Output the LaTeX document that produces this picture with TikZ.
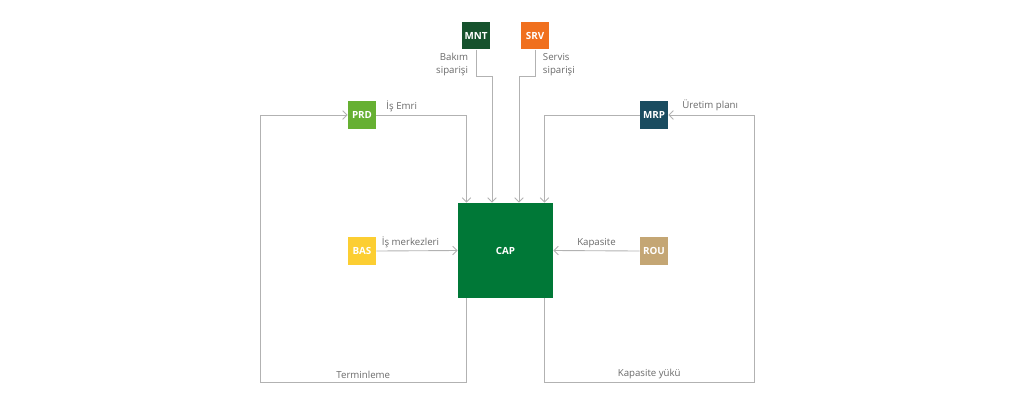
\documentclass[tikz,border=0pt]{standalone}
\usepackage{fontspec}
\setmainfont{Open Sans}
\definecolor{capgreen}{RGB}{0,120,55}
\definecolor{mntgreen}{RGB}{22,82,45}
\definecolor{srvorange}{RGB}{240,112,30}
\definecolor{prdgreen}{RGB}{102,176,50}
\definecolor{mrpteal}{RGB}{26,76,96}
\definecolor{basyellow}{RGB}{252,206,50}
\definecolor{routan}{RGB}{196,166,116}
\definecolor{linegrey}{RGB}{178,178,178}
\definecolor{textgrey}{RGB}{105,105,105}
\usetikzlibrary{arrows.meta, positioning, calc}
\tikzset{
  modbox/.style={rectangle, fill=#1, text=white, minimum width=0.56cm,
                 minimum height=0.55cm, inner sep=0pt,
                 font=\fontsize{5.6}{7}\selectfont\bfseries},
  flow/.style={-{Straight Barb[length=2.5pt,width=5pt]}, line width=0.5pt, draw=linegrey},
  plain/.style={line width=0.5pt, draw=linegrey},
  lbl/.style={font=\fontsize{5.5}{7.4}\selectfont, text=textgrey, inner sep=1.5pt},
}

\begin{document}
\begin{tikzpicture}[x=0.02cm, y=-0.02cm]
    \useasboundingbox (0,0) rectangle (1024,410);
    % modules
    \node[modbox=capgreen, minimum width=1.9cm, minimum height=1.9cm] (cap) at (505.5,250.5) {CAP};
    \node[modbox=mntgreen] (mnt) at (476,35.5) {MNT};
    \node[modbox=srvorange] (srv) at (535,35.5) {SRV};
    \node[modbox=prdgreen] (prd) at (362,115) {PRD};
    \node[modbox=mrpteal] (mrp) at (654,115) {MRP};
    \node[modbox=basyellow] (bas) at (362,251) {BAS};
    \node[modbox=routan] (rou) at (654,251) {ROU};
    % loop corners
    \coordinate (lowleft) at (260,382);
    \coordinate (lowright) at (754,382);
    % orders from the top
    \draw[flow] (mnt.south) -- ++(0,27) -| ($(cap.north)+(-13.5,0)$);
    \draw[flow] (srv.south) -- ++(0,27) -| ($(cap.north)+(13.5,0)$);
    \node[lbl, anchor=north east, align=right] (bakim) at ($(mnt.south)+(-5,1)$) {Bakım\\siparişi};
    \node[lbl, anchor=north west, align=left] (servis) at ($(srv.south)+(5,1)$) {Servis\\siparişi};
    % production and planning
    \draw[flow] (prd.east) node[lbl, above right, xshift=4] (emri) {İş Emri} -| ($(cap.north)+(-39,0)$);
    \draw[flow] (mrp.west) -| ($(cap.north)+(39,0)$);
    \draw[flow] (bas.east) -- node[lbl, above, pos=0.42] (merkez) {İş merkezleri} (cap.west);
    \draw[flow] (rou.west) -- node[lbl, above] (kapasite) {Kapasite} (cap.east);
    % feedback loops
    \draw[flow] ($(cap.south)+(-39,0)$) |- node[lbl, above, pos=0.75] (termin) {Terminleme} (lowleft) |- (prd.west);
    \draw[flow] ($(cap.south)+(39,0)$) |- node[lbl, above, pos=0.75] (yuk) {Kapasite yükü} (lowright) |- (mrp.east);
    \node[lbl, anchor=south west] (uretim) at ($(mrp.east)+(11,-1)$) {Üretim planı};
  \end{tikzpicture}
\end{document}
